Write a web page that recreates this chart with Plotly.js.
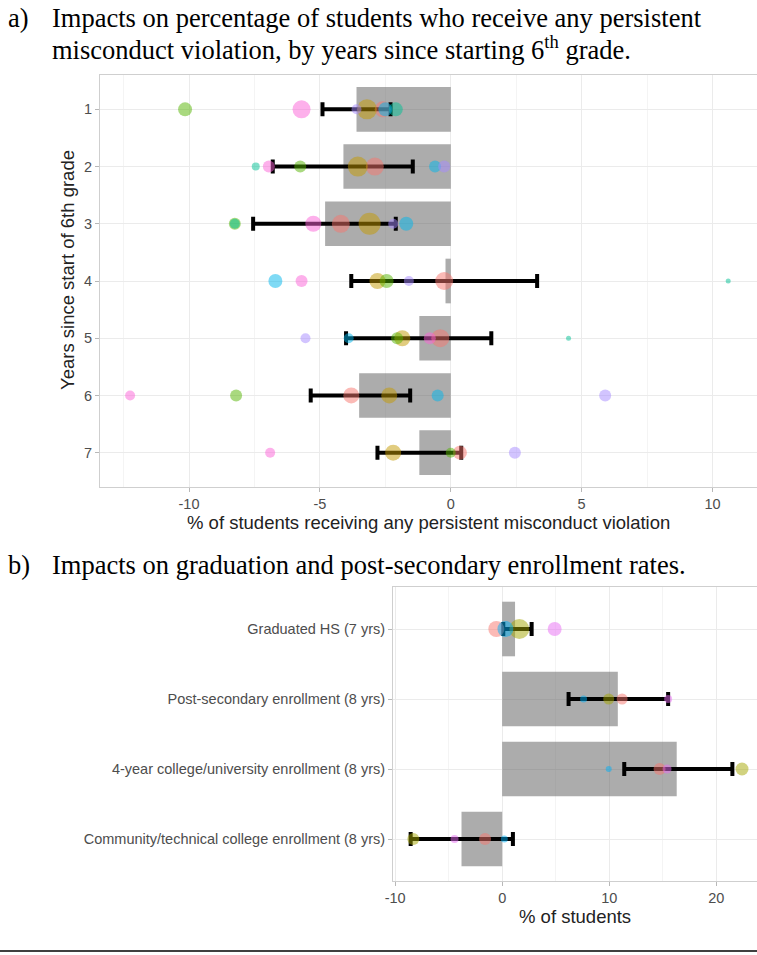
<!DOCTYPE html>
<html>
<head>
<meta charset="utf-8">
<script src="https://cdn.plot.ly/plotly-3.0.1.min.js"></script>
<style>html,body{margin:0;padding:0;background:#fff;}#chart{width:757px;height:955px;}</style>
</head>
<body>
<div id="chart"></div>
<script>
// ---------- Panel a data ----------
const rowsA = [1, 2, 3, 4, 5, 6, 7];
const barA = [-3.6, -4.1, -4.8, -0.2, -1.2, -3.5, -1.2];
const ciLoA = [-4.9, -6.8, -7.55, -3.8, -4.0, -5.35, -2.8];
const ciHiA = [-2.3, -1.45, -2.1, 3.3, 1.55, -1.55, 0.4];

const redA_x    = [-2.6, -2.9, -4.2, -0.25, -0.4, -3.8, 0.35];
const redA_s    = [16, 18, 18, 18, 18, 16, 14];
const goldA_x   = [-3.2, -3.55, -3.1, -2.8, -1.85, -2.35, -2.2];
const goldA_s   = [20, 20, 22, 16, 16, 16, 16];
const greenA_x  = [-10.15, -5.75, -8.25, -2.45, -2.05, -8.2, 0.0];
const greenA_s  = [14, 12, 12, 14, 12, 12, 10];
const tealA_x   = [-2.1, -7.45, -8.25, 10.6, 4.5, null, null];
const tealA_s   = [14, 8, 10, 5, 5, 0, 0];
const blueA_x   = [-2.5, -0.6, -1.7, -6.7, -3.9, -0.5, null];
const blueA_s   = [14, 12, 14, 14, 10, 12, 0];
const purpleA_x = [-3.6, -0.25, -2.2, -1.6, -5.55, 5.9, 2.45];
const purpleA_s = [10, 12, 10, 10, 10, 12, 12];
const pinkA_x   = [-5.7, -6.95, -5.25, -5.7, -0.8, -12.25, -6.9];
const pinkA_s   = [18, 12, 16, 12, 12, 10, 10];

// ---------- Panel b data ----------
const catsB = ['Graduated HS (7 yrs)', 'Post-secondary enrollment (8 yrs)',
  '4-year college/university enrollment (8 yrs)', 'Community/technical college enrollment (8 yrs)'];
const rowsB = [1, 2, 3, 4];
const barB = [1.2, 10.8, 16.3, -3.8];
const ciLoB = [0.1, 6.2, 11.4, -8.55];
const ciHiB = [2.75, 15.5, 21.5, 1.0];

const redB_x     = [-0.55, 11.2, 14.7, -1.6];
const redB_s     = [16, 11, 12, 12];
const oliveB_x   = [1.6, 9.95, 22.4, -8.3];
const oliveB_s   = [20, 11, 13, 12];
const blueB_x    = [0.3, 7.6, 9.95, 0.2];
const blueB_s    = [16, 7, 6, 7];
const magentaB_x = [4.9, 15.5, 15.4, -4.45];
const magentaB_s = [14, 8, 9, 8];

const tickX_A = [-10, -5, 0, 5, 10];
const tickX_B = [-10, 0, 10, 20];

// ---------- helpers ----------
const H = 955;
const py = p => 1 - p / H;
const barColor = 'rgba(89,89,89,0.5)';

function pts(x, s, rows, color, xa, ya) {
  return {type: 'scatter', mode: 'markers', x: x, y: rows, xaxis: xa, yaxis: ya,
    marker: {size: s, color: color, opacity: 0.5, line: {width: 0}},
    hoverinfo: 'skip', showlegend: false, cliponaxis: false};
}
function errTrace(center, lo, hi, rows, xa, ya) {
  return {type: 'scatter', mode: 'markers', x: center, y: rows, xaxis: xa, yaxis: ya,
    marker: {size: 1, color: 'rgba(0,0,0,0)'},
    error_x: {type: 'data', symmetric: false,
      array: hi.map((h, i) => h - center[i]),
      arrayminus: lo.map((l, i) => center[i] - l),
      color: '#000', thickness: 4, width: 7},
    hoverinfo: 'skip', showlegend: false};
}

const traces = [
  {type: 'bar', orientation: 'h', x: barA, y: rowsA, width: 0.78, xaxis: 'x', yaxis: 'y',
   marker: {color: barColor, line: {width: 0}}, hoverinfo: 'skip', showlegend: false},
  errTrace(barA, ciLoA, ciHiA, rowsA, 'x', 'y'),
  pts(redA_x, redA_s, rowsA, '#F8766D', 'x', 'y'),
  pts(goldA_x, goldA_s, rowsA, '#C49A00', 'x', 'y'),
  pts(greenA_x, greenA_s, rowsA, '#53B400', 'x', 'y'),
  pts(tealA_x, tealA_s, rowsA, '#00C094', 'x', 'y'),
  pts(blueA_x, blueA_s, rowsA, '#00B6EB', 'x', 'y'),
  pts(purpleA_x, purpleA_s, rowsA, '#A58AFF', 'x', 'y'),
  pts(pinkA_x, pinkA_s, rowsA, '#FB61D7', 'x', 'y'),

  {type: 'bar', orientation: 'h', x: barB, y: rowsB, width: 0.78, xaxis: 'x2', yaxis: 'y2',
   marker: {color: barColor, line: {width: 0}}, hoverinfo: 'skip', showlegend: false},
  errTrace(barB, ciLoB, ciHiB, rowsB, 'x2', 'y2'),
  pts(redB_x, redB_s, rowsB, '#F8766D', 'x2', 'y2'),
  pts(oliveB_x, oliveB_s, rowsB, '#A3A500', 'x2', 'y2'),
  pts(blueB_x, blueB_s, rowsB, '#00B0F6', 'x2', 'y2'),
  pts(magentaB_x, magentaB_s, rowsB, '#E76BF3', 'x2', 'y2')
];

const tickFont = {family: 'Liberation Sans, Arial, sans-serif', size: 14.5, color: '#4d4d4d'};
const axisCommon = {
  showgrid: true, gridcolor: '#ebebeb', gridwidth: 1, zeroline: false,
  showline: true, linecolor: '#cfcfcf', linewidth: 1, mirror: true,
  ticks: 'outside', ticklen: 4, tickcolor: '#b8b8b8', tickwidth: 1,
  tickfont: tickFont, fixedrange: true
};

const serif = {family: 'Liberation Serif, Times New Roman, serif', size: 26.5, color: '#000'};
const sans = {family: 'Liberation Sans, Arial, sans-serif', size: 18.5, color: '#222'};

const layout = {
  width: 757, height: 955,
  margin: {l: 0, r: 0, t: 0, b: 0},
  paper_bgcolor: '#fff', plot_bgcolor: '#fff',
  showlegend: false, barmode: 'overlay',
  xaxis: Object.assign({}, axisCommon, {
    domain: [100 / 757, 1], range: [-13.4, 11.7], anchor: 'y',
    tickmode: 'array', tickvals: tickX_A, ticktext: tickX_A.map(String),
    minor: {dtick: 2.5, tick0: 0, showgrid: true, gridcolor: '#f4f4f4', gridwidth: 1}
  }),
  yaxis: Object.assign({}, axisCommon, {
    domain: [py(487), py(75)], range: [7.6, 0.4], anchor: 'x',
    tickmode: 'array', tickvals: rowsA, ticktext: rowsA.map(String)
  }),
  xaxis2: Object.assign({}, axisCommon, {
    domain: [393 / 757, 1], range: [-10.2, 23.8], anchor: 'y2',
    tickmode: 'array', tickvals: tickX_B, ticktext: tickX_B.map(String),
    minor: {dtick: 5, tick0: 0, showgrid: true, gridcolor: '#f4f4f4', gridwidth: 1}
  }),
  yaxis2: Object.assign({}, axisCommon, {
    domain: [py(881), py(587)], range: [4.6, 0.4], anchor: 'x2',
    tickmode: 'array', tickvals: rowsB, ticktext: catsB
  }),
  annotations: [
    {xref: 'paper', yref: 'paper', x: 6 / 757, y: py(18), xanchor: 'left', yanchor: 'middle',
     text: 'a)', showarrow: false, font: serif},
    {xref: 'paper', yref: 'paper', x: 50 / 757, y: py(18), xanchor: 'left', yanchor: 'middle',
     text: 'Impacts on percentage of students who receive any persistent', showarrow: false, font: serif},
    {xref: 'paper', yref: 'paper', x: 50 / 757, y: py(48), xanchor: 'left', yanchor: 'middle',
     text: 'misconduct violation, by years since starting 6<sup>th</sup> grade.', showarrow: false, font: serif},
    {xref: 'paper', yref: 'paper', x: 6 / 757, y: py(565), xanchor: 'left', yanchor: 'middle',
     text: 'b)', showarrow: false, font: serif},
    {xref: 'paper', yref: 'paper', x: 50 / 757, y: py(565), xanchor: 'left', yanchor: 'middle',
     text: 'Impacts on graduation and post-secondary enrollment rates.', showarrow: false, font: serif},
    {xref: 'paper', yref: 'paper', x: 428 / 757, y: py(522), xanchor: 'center', yanchor: 'middle',
     text: '% of students receiving any persistent misconduct violation', showarrow: false, font: sans},
    {xref: 'paper', yref: 'paper', x: 68 / 757, y: py(270), xanchor: 'center', yanchor: 'middle',
     text: 'Years since start of 6th grade', textangle: -90, showarrow: false, font: sans},
    {xref: 'paper', yref: 'paper', x: 575 / 757, y: py(916), xanchor: 'center', yanchor: 'middle',
     text: '% of students', showarrow: false, font: sans}
  ],
  shapes: [
    {type: 'line', xref: 'paper', yref: 'paper', x0: 0, x1: 1, y0: py(951), y1: py(951),
     line: {color: '#000', width: 1.5}}
  ]
};

Plotly.newPlot('chart', traces, layout, {staticPlot: true, displayModeBar: false});
</script>
</body>
</html>
